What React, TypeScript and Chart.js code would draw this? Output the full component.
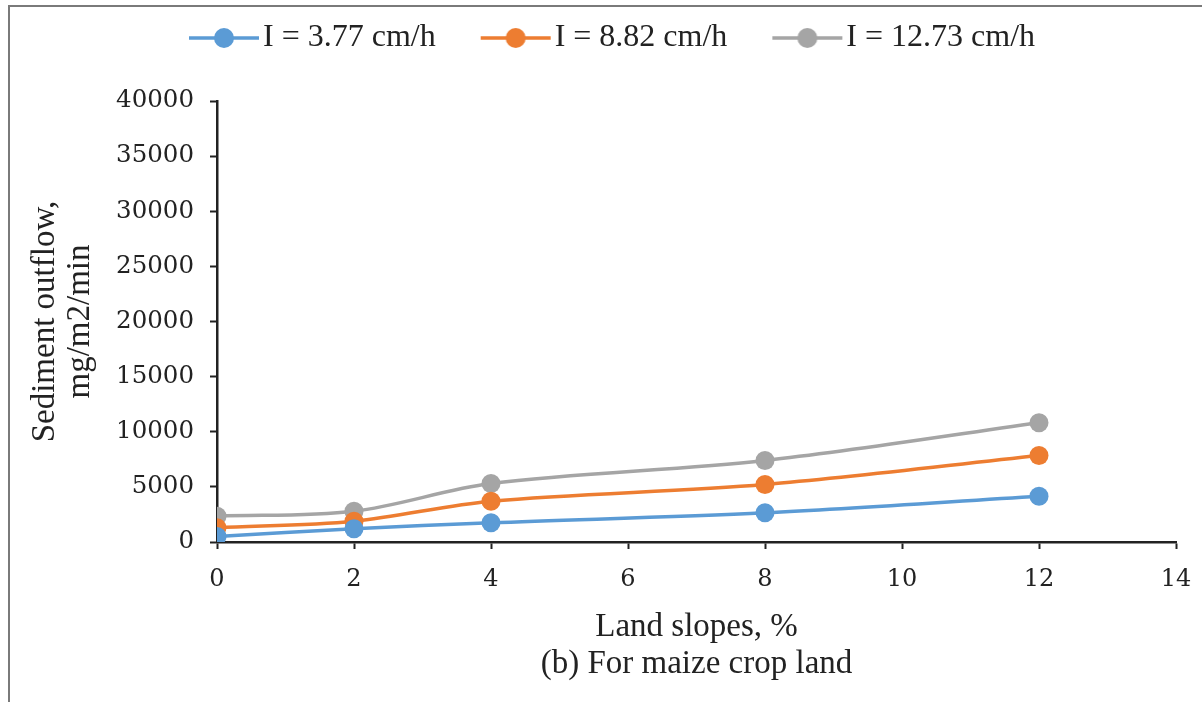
import React, { useEffect, useRef } from 'react';
import { Chart, registerables } from 'chart.js';

Chart.register(...registerables);

// ---- data ----
const slopes = [0, 2, 4, 8, 12];
const seriesLabels = ['I = 3.77 cm/h', 'I = 8.82 cm/h', 'I = 12.73 cm/h'];
const lowIntensity = [500, 1200, 1740, 2650, 4150];
const midIntensity = [1300, 1890, 3700, 5215, 7845];
const highIntensity = [2340, 2790, 5300, 7390, 10810];
const yTickValues = [0, 5000, 10000, 15000, 20000, 25000, 30000, 35000, 40000];
const xTickValues = [0, 2, 4, 6, 8, 10, 12, 14];
const xTitleLines = ['Land slopes, %', '(b) For maize crop land'];
const yTitleLines = ['Sediment outflow,', 'mg/m2/min'];

const seriesColors = ['#5B9BD5', '#ED7D31', '#A5A5A5'];

const SERIF = '"Liberation Serif", "Times New Roman", serif';
const TICKFONT = '"DejaVu Serif", serif';

function legendSymbol(color: string): HTMLCanvasElement {
  const c = document.createElement('canvas');
  c.width = 140;
  c.height = 24;
  const ctx = c.getContext('2d')!;
  ctx.strokeStyle = color;
  ctx.lineWidth = 3.5;
  ctx.beginPath();
  ctx.moveTo(57, 12);
  ctx.lineTo(127, 12);
  ctx.stroke();
  ctx.fillStyle = color;
  ctx.beginPath();
  ctx.arc(92, 12, 10, 0, Math.PI * 2);
  ctx.fill();
  return c;
}

const legendHeightPlugin = {
  id: 'legendHeightFix',
  beforeInit(chart: any) {
    const legend = chart.legend;
    if (!legend) return;
    const fit = legend.fit;
    legend.fit = function () {
      fit.call(this);
      this.height = 92;
    };
  },
};

export default function App() {
  const ref = useRef<HTMLCanvasElement | null>(null);

  useEffect(() => {
    if (!ref.current) return;
    const allSeries = [lowIntensity, midIntensity, highIntensity];
    const symbols = seriesColors.map(legendSymbol);
    const chart = new Chart(ref.current, {
      type: 'line',
      data: {
        datasets: allSeries.map((vals, i) => ({
          label: seriesLabels[i],
          data: slopes.map((x, j) => ({ x, y: vals[j] })),
          borderColor: seriesColors[i],
          backgroundColor: seriesColors[i],
          borderWidth: 3.5,
          pointRadius: 9.5,
          pointHoverRadius: 9.5,
          pointBorderWidth: 0,
          pointBackgroundColor: seriesColors[i],
          tension: 0.33,
          fill: false,
        })),
      },
      options: {
        animation: false,
        responsive: false,
        devicePixelRatio: 1,
        layout: { padding: { top: 2, right: 26, bottom: 0, left: 6 } },
        plugins: {
          tooltip: { enabled: false },
          legend: {
            position: 'top',
            align: 'center',
            labels: {
              usePointStyle: true,
              pointStyleWidth: 90,
              padding: 13,
              color: '#222',
              font: { family: SERIF, size: 32 },
              generateLabels: () =>
                seriesLabels.map((t, i) => ({
                  text: t,
                  pointStyle: symbols[i] as any,
                  fillStyle: seriesColors[i],
                  strokeStyle: seriesColors[i],
                  lineWidth: 0,
                  hidden: false,
                  datasetIndex: i,
                  fontColor: '#222',
                })),
            },
          },
        },
        scales: {
          x: {
            type: 'linear',
            min: 0,
            max: 14,
            afterBuildTicks: (scale: any) => {
              scale.ticks = xTickValues.map((v) => ({ value: v }));
            },
            afterFit: (scale: any) => {
              scale.height = 160;
              scale.paddingRight = 10;
              scale.paddingLeft = 10;
            },
            grid: {
              drawOnChartArea: false,
              drawTicks: true,
              tickLength: 7,
              tickWidth: 2,
              tickColor: '#222',
            },
            border: { display: true, color: '#222', width: 2.5 },
            ticks: {
              padding: 16,
              color: '#222',
              font: { family: TICKFONT, size: 24 },
              maxRotation: 0,
            },
            title: {
              display: true,
              text: xTitleLines,
              color: '#222',
              font: { family: SERIF, size: 33, lineHeight: 1.12 },
              padding: { top: 0, bottom: 19 },
            },
          },
          y: {
            type: 'linear',
            min: 0,
            max: 40000,
            afterBuildTicks: (scale: any) => {
              scale.ticks = yTickValues.map((v) => ({ value: v }));
            },
            afterFit: (scale: any) => {
              scale.width = 201;
            },
            grid: {
              drawOnChartArea: false,
              drawTicks: true,
              tickLength: 7,
              tickWidth: 2,
              tickColor: '#222',
            },
            border: { display: true, color: '#222', width: 2.5 },
            ticks: {
              padding: 16,
              color: '#222',
              font: { family: TICKFONT, size: 24.5 },
              callback: (v: any) => String(v),
            },
            title: {
              display: true,
              text: yTitleLines,
              color: '#222',
              font: { family: SERIF, size: 33, lineHeight: 1.05 },
              padding: { top: 12, bottom: 0 },
            },
          },
        },
      },
      plugins: [legendHeightPlugin],
    } as any);
    return () => chart.destroy();
  }, []);

  return (
    <div
      style={{
        position: 'absolute',
        left: 8,
        top: 5,
        width: 1194,
        height: 695,
        borderTop: '2px solid #7a7a7a',
        borderLeft: '2px solid #7a7a7a',
        background: '#fff',
      }}
    >
      <canvas ref={ref} width={1192} height={695} style={{ display: 'block' }} />
    </div>
  );
}
